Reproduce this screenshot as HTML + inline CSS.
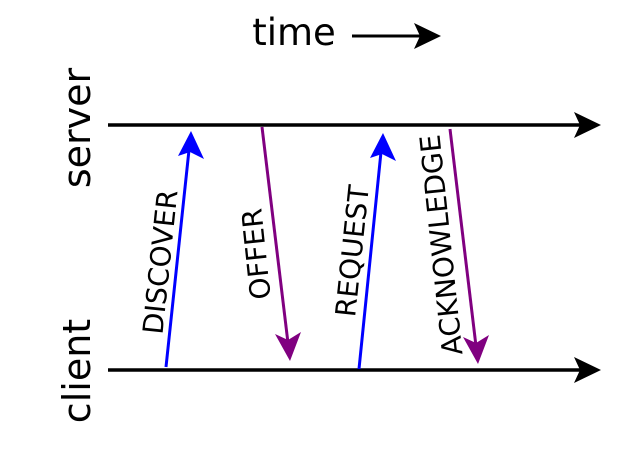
<!DOCTYPE html>
<html><head><style>html,body{margin:0;padding:0;background:#fff}</style></head>
<body>
<svg width="640" height="452" viewBox="0 0 640 452" xmlns="http://www.w3.org/2000/svg" font-family="'DejaVu Sans', 'Liberation Sans', sans-serif">
<rect width="640" height="452" fill="#fff"/>
<text x="294" y="45" font-size="37" text-anchor="middle">time</text>
<line x1="352" y1="36" x2="420" y2="36" stroke="#000" stroke-width="3"/>
<path d="M441,36 L414,23 L420,36 L414,49 Z" fill="#000"/>
<line x1="108" y1="125" x2="580" y2="125" stroke="#000" stroke-width="3.5"/>
<path d="M601,125 L574,112 L580,125 L574,138 Z" fill="#000"/>
<line x1="108" y1="370" x2="580" y2="370" stroke="#000" stroke-width="3.5"/>
<path d="M601,370 L574,357 L580,370 L574,383 Z" fill="#000"/>
<text transform="translate(90,128) rotate(-90)" font-size="38" text-anchor="middle">server</text>
<text transform="translate(90,371) rotate(-90)" font-size="38" text-anchor="middle">client</text>
<line x1="166" y1="367" x2="189" y2="150" stroke="#00f" stroke-width="3"/>
<path d="M191,131 L204,159 L190,152 L178,156 Z" fill="#00f"/>
<line x1="262" y1="127" x2="288" y2="343" stroke="#800080" stroke-width="3"/>
<path d="M290,361 L275,334 L288,340 L301,332 Z" fill="#800080"/>
<line x1="359" y1="369" x2="381" y2="152" stroke="#00f" stroke-width="3"/>
<path d="M383,133 L396,161 L382,154 L370,158 Z" fill="#00f"/>
<line x1="450" y1="129" x2="476" y2="346" stroke="#800080" stroke-width="3"/>
<path d="M478,364 L463,337 L476,343 L489,335 Z" fill="#800080"/>
<g font-size="28" text-anchor="middle">
<text transform="translate(160,262) rotate(-84)" dy="10">DISCOVER</text>
<text transform="translate(256,254) rotate(-96)" dy="10">OFFER</text>
<text transform="translate(352,251) rotate(-84)" dy="10">REQUEST</text>
<text transform="translate(441,245) rotate(-96)" dy="10">ACKNOWLEDGE</text>
</g>
</svg>
</body></html>
